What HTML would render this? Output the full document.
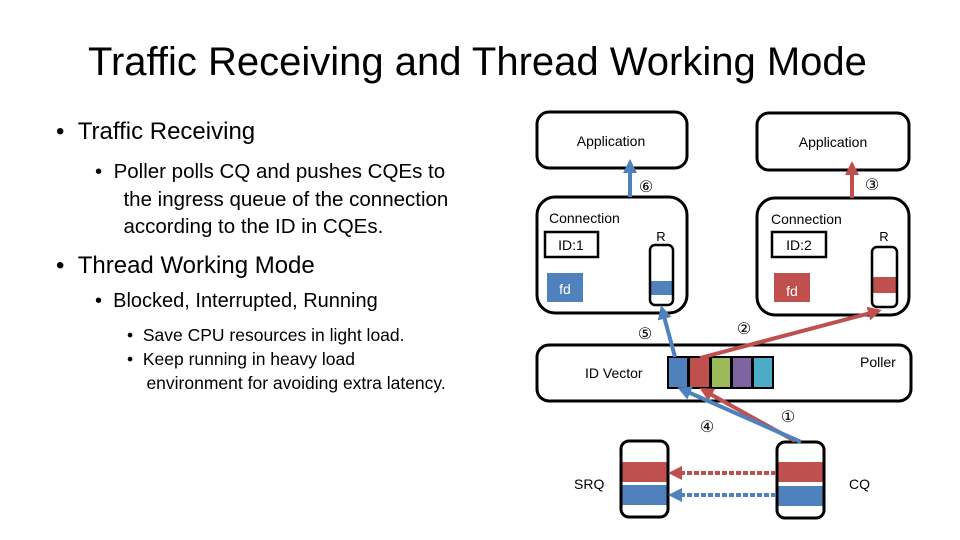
<!DOCTYPE html>
<html><head><meta charset="utf-8"><style>
body{margin:0;width:960px;height:540px;background:#fff;overflow:hidden;font-family:"Liberation Sans","DejaVu Sans",sans-serif;}
.t{position:absolute;white-space:nowrap;color:#000}
</style></head><body>
<div class="t" style="left:88px;top:40px;font-size:40px;">Traffic Receiving and Thread Working Mode</div>
<div class="t" style="left:56px;top:118px;font-size:24px;">•&nbsp;&nbsp;Traffic Receiving</div>
<div class="t" style="left:95px;top:158px;font-size:20.5px;line-height:27.5px;">•&nbsp;&nbsp;Poller polls CQ and pushes CQEs to<br>&nbsp;&nbsp;&nbsp;&nbsp;&nbsp;the ingress queue of the connection<br>&nbsp;&nbsp;&nbsp;&nbsp;&nbsp;according to the ID in CQEs.</div>
<div class="t" style="left:56px;top:252px;font-size:24px;">•&nbsp;&nbsp;Thread Working Mode</div>
<div class="t" style="left:95px;top:290px;font-size:20px;">•&nbsp;&nbsp;Blocked, Interrupted, Running</div>
<div class="t" style="left:127px;top:323px;font-size:17.5px;line-height:24px;">•&nbsp;&nbsp;Save CPU resources in light load.<br>•&nbsp;&nbsp;Keep running in heavy load<br>&nbsp;&nbsp;&nbsp;&nbsp;environment for avoiding extra latency.</div>
<svg width="960" height="540" style="position:absolute;left:0;top:0" font-family="Liberation Sans, sans-serif">
<defs>
<marker id="ab2" markerWidth="3.5" markerHeight="3.5" refX="2.5" refY="1.75" orient="auto"><path d="M0,0L3.5,1.75L0,3.5z" fill="#4f81bd"/></marker>
<marker id="ar2" markerWidth="3.5" markerHeight="3.5" refX="2.5" refY="1.75" orient="auto"><path d="M0,0L3.5,1.75L0,3.5z" fill="#c0504d"/></marker>
</defs>
<g fill="none" stroke="#000" stroke-width="3">
<rect x="537" y="112" width="150" height="56" rx="12"/>
<rect x="757" y="113" width="152" height="57" rx="12"/>
<rect x="537" y="197" width="150" height="116" rx="18"/>
<rect x="757" y="198" width="152" height="117" rx="18"/>
<rect x="545" y="232" width="53" height="25" stroke-width="2.5"/>
<rect x="772" y="232" width="54" height="25" stroke-width="2.5"/>
<rect x="537" y="345" width="374" height="56" rx="12"/>
</g>
<rect x="547" y="273" width="36" height="29" fill="#4f81bd"/>
<rect x="774" y="273" width="36" height="29" fill="#c0504d"/>
<rect x="651" y="281" width="22" height="14" fill="#4f81bd"/>
<rect x="873" y="277" width="23" height="16" fill="#c0504d"/>
<rect x="650" y="245" width="23" height="60" rx="5" fill="none" stroke="#000" stroke-width="2.5"/>
<rect x="872" y="247" width="25" height="60" rx="5" fill="none" stroke="#000" stroke-width="2.5"/>
<g stroke="#000" stroke-width="2">
<rect x="668" y="357" width="20" height="31" fill="#4f81bd"/>
<rect x="689" y="357" width="21" height="31" fill="#c0504d"/>
<rect x="711" y="357" width="20" height="31" fill="#9bbb59"/>
<rect x="732" y="357" width="20" height="31" fill="#8064a2"/>
<rect x="753" y="357" width="20" height="31" fill="#4bacc6"/>
</g>
<rect x="622" y="462" width="45" height="20" fill="#c0504d"/>
<rect x="622" y="485" width="45" height="20" fill="#4f81bd"/>
<rect x="778" y="462" width="45" height="20" fill="#c0504d"/>
<rect x="778" y="486" width="45" height="20" fill="#4f81bd"/>
<rect x="621" y="441" width="47" height="76" rx="8" fill="none" stroke="#000" stroke-width="3"/>
<rect x="777" y="442" width="47" height="76" rx="8" fill="none" stroke="#000" stroke-width="3"/>
<g stroke-width="4">
<line x1="630" y1="197" x2="630" y2="163" stroke="#4f81bd" marker-end="url(#ab2)"/>
<line x1="852" y1="198" x2="852" y2="165" stroke="#c0504d" marker-end="url(#ar2)"/>
<line x1="776" y1="473" x2="672" y2="473" stroke="#c0504d" stroke-dasharray="5,2" marker-end="url(#ar2)"/>
<line x1="776" y1="495" x2="672" y2="495" stroke="#4f81bd" stroke-dasharray="5,2" marker-end="url(#ab2)"/>
<line x1="795" y1="441" x2="703" y2="390" stroke="#c0504d" marker-end="url(#ar2)"/>
<line x1="801" y1="442" x2="681" y2="389" stroke="#4f81bd" marker-end="url(#ab2)"/>
<line x1="675" y1="357" x2="662" y2="309" stroke="#4f81bd" marker-end="url(#ab2)"/>
<line x1="700" y1="358" x2="878" y2="311" stroke="#c0504d" marker-end="url(#ar2)"/>
</g>
<g font-size="14" fill="#000">
<text x="611" y="146" text-anchor="middle">Application</text>
<text x="833" y="147" text-anchor="middle">Application</text>
<text x="549" y="223">Connection</text>
<text x="771" y="224">Connection</text>
<text x="571" y="250" text-anchor="middle">ID:1</text>
<text x="799" y="250" text-anchor="middle">ID:2</text>
<text x="661" y="241" text-anchor="middle" font-size="13">R</text>
<text x="884" y="241" text-anchor="middle" font-size="13">R</text>
<text x="565" y="294" text-anchor="middle" fill="#fff">fd</text>
<text x="792" y="296" text-anchor="middle" fill="#fff">fd</text>
<text x="585" y="378">ID Vector</text>
<text x="860" y="367">Poller</text>
<text x="574" y="489">SRQ</text>
<text x="849" y="489">CQ</text>
<text x="646" y="192" text-anchor="middle" font-size="16">⑥</text>
<text x="872" y="190" text-anchor="middle" font-size="16">③</text>
<text x="645" y="339" text-anchor="middle" font-size="16">⑤</text>
<text x="744" y="334" text-anchor="middle" font-size="16">②</text>
<text x="707" y="432" text-anchor="middle" font-size="16">④</text>
<text x="788" y="422" text-anchor="middle" font-size="16">①</text>
</g>
</svg>
</body></html>
